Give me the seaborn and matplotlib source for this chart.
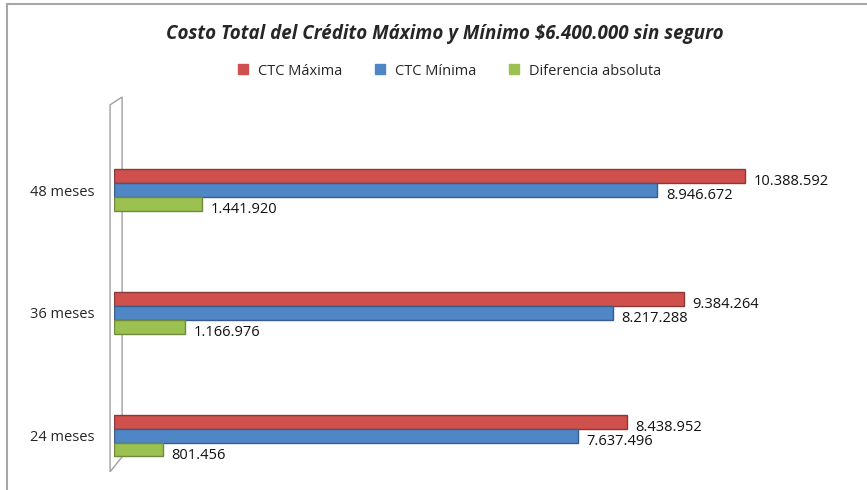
import matplotlib

matplotlib.use("Agg")
import matplotlib.pyplot as plt
import pandas as pd
import seaborn as sns
from matplotlib.lines import Line2D
from matplotlib.patches import Polygon

plazos = ["48 meses", "36 meses", "24 meses"]
ctc_maxima = [10388592, 9384264, 8438952]
ctc_minima = [8946672, 8217288, 7637496]
diferencia = [1441920, 1166976, 801456]
series = ["CTC Máxima", "CTC Mínima", "Diferencia absoluta"]
colores = ["#D0504D", "#4F86C6", "#9BC150"]
bordes = ["#8C3836", "#385D8A", "#71893F"]


def fmt(v):
    return f"{v:,}".replace(",", ".")


def main():
    rows = []
    for i, p in enumerate(plazos):
        rows.append((p, series[0], ctc_maxima[i]))
        rows.append((p, series[1], ctc_minima[i]))
        rows.append((p, series[2], diferencia[i]))
    df = pd.DataFrame(rows, columns=["plazo", "serie", "valor"])

    sns.set_style("white")
    plt.rcParams["font.family"] = ["Open Sans", "DejaVu Sans"]

    fig = plt.figure(figsize=(8.67, 4.9), dpi=100)
    ax = fig.add_axes([0.132, 0.041, 0.84, 0.761])

    sns.barplot(
        df,
        x="valor",
        y="plazo",
        hue="serie",
        order=plazos,
        hue_order=series,
        palette=colores,
        saturation=1,
        width=0.34,
        orient="h",
        legend=False,
        ax=ax,
    )

    for cont, ec in zip(ax.containers, bordes):
        for bar in cont:
            bar.set_edgecolor(ec)
            bar.set_linewidth(1.0)
            w = bar.get_width()
            ax.annotate(
                fmt(int(w)),
                (w, bar.get_y() + bar.get_height() / 2),
                xytext=(6, -4),
                textcoords="offset points",
                va="center",
                ha="left",
                fontsize=10.5,
                color="#111111",
            )

    ax.set_xlim(0, 12000000)
    ax.set_ylim(2.28, -0.76)
    ax.set_xlabel("")
    ax.set_ylabel("")
    ax.set_xticks([])
    ax.tick_params(axis="y", length=0, pad=14, labelsize=10.5)
    for s in ax.spines.values():
        s.set_visible(False)

    # 3D-like side wall
    wall = Polygon(
        [(-0.006, -0.005), (-0.006, 0.979), (0.0105, 1.0), (0.0105, 0.035)],
        closed=True,
        transform=ax.transAxes,
        facecolor="white",
        edgecolor="#A0A0A0",
        linewidth=1.0,
        clip_on=False,
        zorder=0,
    )
    ax.add_patch(wall)

    fig.text(
        0.513,
        0.93,
        "Costo Total del Crédito Máximo y Mínimo $6.400.000 sin seguro",
        ha="center",
        va="center",
        fontsize=13.5,
        fontweight="bold",
        fontstyle="italic",
    )

    handles = [
        Line2D([], [], marker="s", linestyle="", markersize=7, color=c)
        for c in colores
    ]
    fig.legend(
        handles,
        series,
        loc="center",
        bbox_to_anchor=(0.513, 0.855),
        ncol=3,
        frameon=False,
        fontsize=10.5,
        handletextpad=0.0,
        columnspacing=1.6,
    )

    # outer frame (top and left edges)
    fig.add_artist(Line2D([0.008, 1.0], [0.992, 0.992], color="#A6A6A6", lw=1.5, transform=fig.transFigure))
    fig.add_artist(Line2D([0.008, 0.008], [0.0, 0.992], color="#A6A6A6", lw=1.5, transform=fig.transFigure))

    fig.savefig("out.png", dpi=100)


if __name__ == "__main__":
    main()
